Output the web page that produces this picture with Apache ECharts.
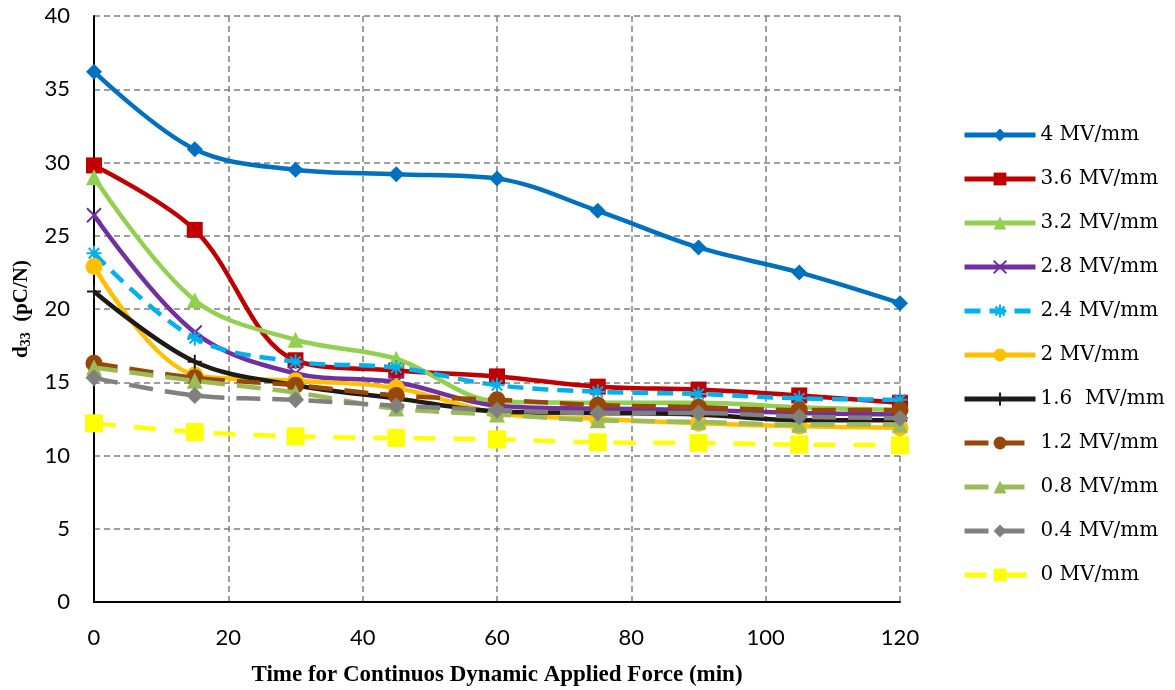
<!DOCTYPE html>
<html>
<head>
<meta charset="utf-8">
<script src="https://cdn.jsdelivr.net/npm/echarts@6/dist/echarts.min.js"></script>
<style>html,body{margin:0;padding:0;background:#fff;}#c{width:1175px;height:690px;}</style>
</head>
<body>
<div id="c"></div>
<script>
const times = [0, 15, 30, 45, 60, 75, 90, 105, 120];
const seriesNames = ['4 MV/mm','3.6 MV/mm','3.2 MV/mm','2.8 MV/mm','2.4 MV/mm','2 MV/mm','1.6  MV/mm','1.2 MV/mm','0.8 MV/mm','0.4 MV/mm','0 MV/mm'];
const v40 = [36.2, 30.9, 29.5, 29.2, 28.9, 26.7, 24.2, 22.5, 20.4];
const v36 = [29.8, 25.4, 16.5, 15.8, 15.4, 14.7, 14.5, 14.1, 13.6];
const v32 = [29.0, 20.6, 17.9, 16.6, 13.7, 13.6, 13.6, 13.3, 13.1];
const v28 = [26.4, 18.4, 15.6, 15.0, 13.4, 13.2, 13.1, 12.9, 12.8];
const v24 = [23.8, 18.0, 16.4, 16.0, 14.8, 14.35, 14.2, 13.9, 13.8];
const v20 = [22.9, 15.5, 15.1, 14.6, 12.9, 12.5, 12.2, 12.0, 11.9];
const v16 = [21.2, 16.4, 14.8, 13.9, 13.0, 12.9, 12.8, 12.4, 12.4];
const v12 = [16.3, 15.3, 14.8, 14.1, 13.8, 13.45, 13.3, 13.1, 13.1];
const v08 = [16.0, 15.1, 14.3, 13.2, 12.8, 12.4, 12.3, 12.1, 12.1];
const v04 = [15.3, 14.1, 13.8, 13.4, 13.1, 12.9, 12.9, 12.65, 12.55];
const v00 = [12.2, 11.6, 11.3, 11.2, 11.1, 10.9, 10.85, 10.75, 10.7];
const yTicks = [0, 5, 10, 15, 20, 25, 30, 35, 40];
const xTicks = [0, 20, 40, 60, 80, 100, 120];

const allValues = [v40, v36, v32, v28, v24, v20, v16, v12, v08, v04, v00];
const colors = ['#0070C0','#C00000','#92D050','#7030A0','#00B0F0','#FFC000','#1E1B14','#974706','#9BBB59','#808080','#FFFF00'];
const X_SYM = 'path://M0,0 L10,10 M10,0 L0,10';
const AST_SYM = 'path://M5,0 L5,10 M0,5 L10,5 M1.5,1.5 L8.5,8.5 M8.5,1.5 L1.5,8.5';
const PLUS_SYM = 'path://M5,0 L5,10 M0,5 L10,5';
const styles = [
  {sym:'diamond', size:16, dash:'solid'},
  {sym:'rect', size:16, dash:'solid'},
  {sym:'triangle', size:16, dash:'solid'},
  {sym:X_SYM, size:14, dash:'solid', stroke:true},
  {sym:AST_SYM, size:15, dash:[16,9], stroke:true},
  {sym:'circle', size:17, dash:'solid'},
  {sym:PLUS_SYM, size:14, dash:'solid', stroke:true},
  {sym:'circle', size:17, dash:[24,12]},
  {sym:'triangle', size:16, dash:[24,12]},
  {sym:'diamond', size:17, dash:[24,12]},
  {sym:'rect', size:18, dash:[22,18]}
];

const series = allValues.map((vals, i) => {
  const st = styles[i];
  return {
    name: seriesNames[i],
    type: 'line',
    smooth: 0.35,
    data: times.map((t, k) => [t, vals[k]]),
    symbol: st.sym,
    symbolSize: st.size,
    showAllSymbol: true,
    z: 2 + i,
    lineStyle: {color: colors[i], width: 4.5, type: st.dash},
    itemStyle: st.stroke
      ? {color: 'rgba(0,0,0,0)', borderColor: colors[i], borderWidth: 2}
      : {color: colors[i], borderWidth: 0},
    emphasis: {disabled: true},
    animation: false
  };
});

const chart = echarts.init(document.getElementById('c'));
chart.setOption({
  backgroundColor: '#fff',
  animation: false,
  grid: {left: 94, right: 275, top: 16, bottom: 88, containLabel: false, outerBoundsMode: 'none'},
  legend: {
    orient: 'vertical',
    left: 957,
    top: 120,
    itemWidth: 71,
    itemHeight: 16,
    itemGap: 24,
    data: seriesNames,
    lineStyle: {width: 5},
    textStyle: {fontFamily: 'DejaVu Serif', fontSize: 20, lineHeight: 16, color: '#000'}
  },
  xAxis: {
    type: 'value',
    min: 0, max: 120, interval: 20,
    name: 'Time for Continuos Dynamic Applied Force (min)',
    nameLocation: 'middle',
    nameGap: 62,
    nameTextStyle: {fontFamily: 'Liberation Serif', fontWeight: 'bold', fontSize: 23, color: '#000'},
    axisLine: {show: true, lineStyle: {color: '#000', width: 2}},
    axisTick: {show: false},
    axisLabel: {fontFamily: 'Lato', fontSize: 22, color: '#000', margin: 25,
      formatter: v => xTicks.includes(v) ? String(v) : ''},
    splitLine: {show: true, lineStyle: {color: '#808080', type: [6, 4], width: 1.5}}
  },
  yAxis: {
    type: 'value',
    min: 0, max: 40, interval: 5,
    name: '{d|d}{s|33}{d|  (pC/N)}',
    nameLocation: 'middle',
    nameGap: 58,
    nameRotate: 90,
    nameTextStyle: {
      rich: {
        d: {fontFamily: 'Liberation Serif', fontWeight: 'bold', fontSize: 21, color: '#000'},
        s: {fontFamily: 'Liberation Serif', fontWeight: 'bold', fontSize: 14, color: '#000', padding: [10, 0, 0, 0]}
      }
    },
    axisLine: {show: true, lineStyle: {color: '#000', width: 2}},
    axisTick: {show: false},
    axisLabel: {fontFamily: 'Lato', fontSize: 22, color: '#000', margin: 24,
      formatter: v => yTicks.includes(v) ? String(v) : ''},
    splitLine: {show: true, lineStyle: {color: '#808080', type: [6, 4], width: 1.5}}
  },
  series: series
});
</script>
</body>
</html>
